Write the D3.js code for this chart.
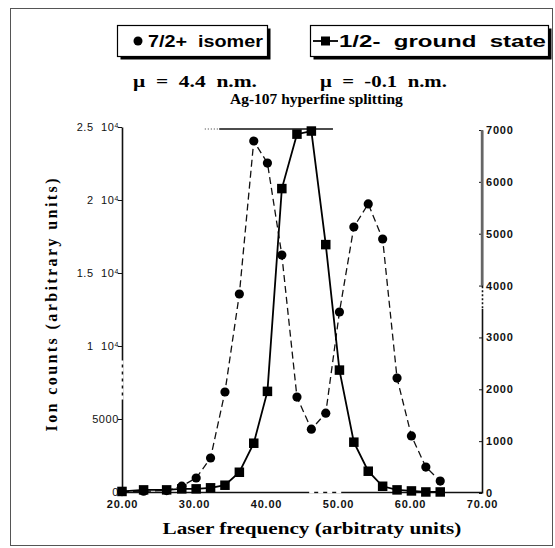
<!DOCTYPE html>
<html><head><meta charset="utf-8">
<script src="https://cdn.jsdelivr.net/npm/d3@7"></script>
<style>body{margin:0;background:#fff}svg{display:block}</style>
</head><body>
<script>
// ---- data ----
const freqIsomer = [20, 23, 26.2, 28.3, 30.3, 32.3, 34.3, 36.3, 38.3, 40.2, 42.2, 44.3, 46.3, 48.3, 50.2, 52.2, 54.2, 56.2, 58.2, 60.2, 62.2, 64.2];
const countsIsomer = [30, 50, 100, 400, 960, 2330, 6850, 13560, 24040, 22530, 16230, 6500, 4300, 5400, 12330, 18150, 19730, 17330, 7800, 3840, 1710, 750];
const freqGround = [20, 23, 26.2, 28.3, 30.3, 32.3, 34.3, 36.3, 38.3, 40.2, 42.2, 44.3, 46.3, 48.3, 50.2, 52.2, 54.2, 56.2, 58.2, 60.2, 62.2, 64.2];
const countsGround = [30, 60, 60, 80, 80, 100, 150, 400, 960, 1960, 5870, 6920, 6980, 4790, 2370, 980, 420, 130, 60, 40, 20, 20];
const xTicks = [20, 30, 40, 50, 60, 70];
const xTickLabels = ["20.00", "30.00", "40.00", "50.00", "60.00", "70.00"];
const yLeftTicks = [0, 5000, 10000, 15000, 20000, 25000];
const yLeftLabels = [["0", ""], ["5000", ""], ["1", "4"], ["1.5", "4"], ["2", "4"], ["2.5", "4"]];
const yRightTicks = [0, 1000, 2000, 3000, 4000, 5000, 6000, 7000];
const legendIsomer = "7/2+  isomer";
const legendGround = "1/2-  ground  state";
const muIsomer = "\u03BC  =  4.4  n.m.";
const muGround = "\u03BC  =  -0.1  n.m.";
const title = "Ag-107 hyperfine splitting";
const xTitle = "Laser frequency (arbitraty units)";
const yTitle = "Ion counts (arbitrary units)";

const W = 555, H = 548;
const serif = "'Liberation Serif','Times New Roman',serif";
const sans = "'Liberation Sans',Arial,sans-serif";

const svg = d3.select("body").append("svg").attr("width", W).attr("height", H);

// place text at (x0,y0) and stretch horizontally to a given width
function wideText(str, x0, y0, width, font, size, weight, anchor) {
  const g = svg.append("g");
  const t = g.append("text").attr("font-family", font).attr("font-size", size)
    .attr("font-weight", weight).style("white-space", "pre").attr("fill", "#000").text(str);
  const len = t.node().getComputedTextLength();
  const s = width / len;
  const left = anchor === "middle" ? x0 - width / 2 : x0;
  g.attr("transform", `translate(${left},${y0}) scale(${s},1)`);
  return g;
}

// frame
svg.append("rect").attr("x", 10.5).attr("y", 8.5).attr("width", 542).attr("height", 537)
  .attr("fill", "none").attr("stroke", "#555").attr("stroke-width", 1);

const x = d3.scaleLinear().domain([20, 70]).range([122, 482]);
const yL = d3.scaleLinear().domain([0, 25000]).range([492, 127]);
const yR = d3.scaleLinear().domain([0, 7000]).range([493, 130]);

// axes
const xAxis = svg.append("g").attr("transform", `translate(0,${yL(0)})`)
  .call(d3.axisBottom(x).tickValues(xTicks).tickFormat((d, i) => xTickLabels[i]).tickSize(0).tickPadding(6));
const yAxisL = svg.append("g").attr("transform", `translate(${x(20)},0)`)
  .call(d3.axisLeft(yL).tickValues(yLeftTicks).tickFormat(() => "").tickSize(4).tickSizeOuter(0));
const yAxisR = svg.append("g").attr("transform", `translate(${x(70)},0)`)
  .call(d3.axisRight(yR).tickValues(yRightTicks).tickFormat(d3.format("d")).tickSizeInner(-3).tickSizeOuter(0).tickPadding(4));

[xAxis, yAxisL, yAxisR].forEach(g => {
  g.select(".domain").attr("stroke", "#111").attr("stroke-width", 1.6);
  g.selectAll("line").attr("stroke", "#111");
  g.selectAll("text").attr("font-family", sans).attr("font-size", 11).attr("font-weight", "bold")
    .attr("letter-spacing", 0.8).attr("fill", "#111");
});
xAxis.selectAll("text").attr("dy", "0.9em");
// upper part of right axis is heavier grey in the scan
svg.append("line").attr("x1", x(70)).attr("x2", x(70)).attr("y1", yR(7000)).attr("y2", yR(4000))
  .attr("stroke", "#666").attr("stroke-width", 2.4);

// left tick labels with exponent
yAxisL.selectAll(".tick").each(function (d, i) {
  const lab = yLeftLabels[i];
  const t = d3.select(this).append("text").attr("x", -3).attr("dy", "0.35em")
    .attr("text-anchor", "end").attr("font-family", sans).attr("font-size", 11)
    .attr("letter-spacing", 0.6).attr("fill", "#111").style("white-space", "pre");
  if (lab[1] === "") {
    t.text(lab[0]);
  } else {
    t.append("tspan").text(lab[0] + "  10");
    t.append("tspan").attr("dy", "-0.45em").attr("font-size", 7).text(lab[1]);
  }
});

// small gaps on axes (scan look)
svg.append("line").attr("x1", x(20)).attr("x2", x(20)).attr("y1", yL(9000)).attr("y2", yL(6300))
  .attr("stroke", "#fff").attr("stroke-width", 3).attr("stroke-dasharray", "4,3");
svg.append("line").attr("x1", x(70)).attr("x2", x(70)).attr("y1", yR(3950)).attr("y2", yR(3550))
  .attr("stroke", "#fff").attr("stroke-width", 4).attr("stroke-dasharray", "2,2");
svg.append("line").attr("x1", x(46)).attr("x2", x(51)).attr("y1", yL(0)).attr("y2", yL(0))
  .attr("stroke", "#fff").attr("stroke-width", 3).attr("stroke-dasharray", "5,4");

// top partial line
svg.append("line").attr("x1", x(31.5)).attr("x2", x(33.5)).attr("y1", yR(7000) - 1).attr("y2", yR(7000) - 1)
  .attr("stroke", "#333").attr("stroke-width", 1).attr("stroke-dasharray", "1,2");
svg.append("line").attr("x1", x(33.5)).attr("x2", x(49.3)).attr("y1", yR(7000) - 1).attr("y2", yR(7000) - 1)
  .attr("stroke", "#111").attr("stroke-width", 1.3);

// isomer series (dashed, circles)
const isoPts = freqIsomer.map((f, i) => [x(f), yL(countsIsomer[i])]);
svg.append("path").attr("d", d3.line()(isoPts)).attr("fill", "none").attr("stroke", "#111")
  .attr("stroke-width", 1.3).attr("stroke-dasharray", "7,4");
svg.append("g").selectAll("circle").data(isoPts).join("circle")
  .attr("cx", d => d[0]).attr("cy", d => d[1]).attr("r", 4.6).attr("fill", "#000");

// ground series (solid, squares)
const grPts = freqGround.map((f, i) => [x(f), yR(countsGround[i])]);
svg.append("path").attr("d", d3.line()(grPts)).attr("fill", "none").attr("stroke", "#000")
  .attr("stroke-width", 1.8);
const sq = 9.5;
svg.append("g").selectAll("rect").data(grPts).join("rect")
  .attr("x", d => d[0] - sq / 2).attr("y", d => d[1] - sq / 2).attr("width", sq).attr("height", sq).attr("fill", "#000");

// legend boxes
function box(x0, y0, w, h) {
  svg.append("rect").attr("x", x0 + 3).attr("y", y0 + 3).attr("width", w).attr("height", h).attr("fill", "#000");
  svg.append("rect").attr("x", x0).attr("y", y0).attr("width", w).attr("height", h)
    .attr("fill", "#fff").attr("stroke", "#000").attr("stroke-width", 1.2);
}
box(117.5, 25.5, 150, 31);
box(310.5, 25.5, 238, 31);
svg.append("circle").attr("cx", 138).attr("cy", 41).attr("r", 4.5).attr("fill", "#000");
wideText(legendIsomer, 148, 47, 115, sans, 17, "bold", "start");
svg.append("line").attr("x1", 313).attr("x2", 338).attr("y1", 41).attr("y2", 41).attr("stroke", "#000").attr("stroke-width", 1.8);
svg.append("rect").attr("x", 321).attr("y", 36.5).attr("width", 9).attr("height", 9).attr("fill", "#000");
wideText(legendGround, 339, 47, 207, sans, 17, "bold", "start");

// mu texts
wideText(muIsomer, 133, 87, 124, serif, 17, "bold", "start");
wideText(muGround, 320, 87, 127, serif, 17, "bold", "start");

// title
wideText(title, 230, 104, 173, serif, 14, "bold", "start");

// axis titles
wideText(xTitle, 312, 534, 299, serif, 17, "bold", "middle");
svg.append("text").attr("transform", "translate(57,305) rotate(-90)").attr("text-anchor", "middle")
  .attr("font-family", serif).attr("font-weight", "bold").attr("font-size", 16)
  .attr("textLength", 253).attr("lengthAdjust", "spacing").text(yTitle);
</script>
</body></html>
